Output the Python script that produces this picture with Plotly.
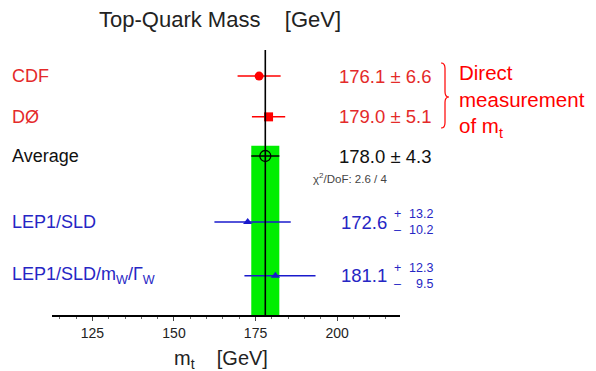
import plotly.graph_objects as go

# ---------------- data ----------------
labels = ["CDF", "DØ", "Average", "LEP1/SLD", "LEP1/SLD/m<sub>W</sub>/Γ<sub>W</sub>"]
values = [176.1, 179.0, 178.0, 172.6, 181.1]
err_plus = [6.6, 5.1, 4.3, 13.2, 12.3]
err_minus = [6.6, 5.1, 4.3, 10.2, 9.5]
row_y = [5.86, 4.86, 3.90, 2.28, 0.96]
chi2_text = "χ<sup>2</sup>/DoF: 2.6 / 4"
tick_vals = [125, 150, 175, 200]
x_range = [112.6, 219.3]
y_range = [0, 6.5]

RED = "#ff0000"
RED_TXT = "#e42a2a"
BLUE = "#1a1acc"
BLUE_TXT = "#2626c4"
GREEN = "#00ee00"
FONT = "Liberation Sans, Arial, sans-serif"

# page offset (default body margin) and geometry in window pixels
OX, OY = 8, 8
WIN_W, WIN_H = 596, 371
W, H = WIN_W - OX, WIN_H - OY
PLOT_L, PLOT_R, PLOT_T, PLOT_B = 52, 400, 50, 315
L, R, T, B = PLOT_L - OX, WIN_W - PLOT_R, PLOT_T - OY, WIN_H - PLOT_B
PW, PH = PLOT_R - PLOT_L, PLOT_B - PLOT_T


def px(xp):
    return (xp - PLOT_L) / PW


def py(yp):
    return (PLOT_B - yp) / PH


fig = go.Figure()

avg = values[2]
fig.add_shape(type="rect", xref="x", yref="y",
              x0=avg - err_minus[2], x1=avg + err_plus[2], y0=0, y1=4.15,
              fillcolor=GREEN, line=dict(width=0), layer="below")
fig.add_shape(type="line", xref="x", yref="y", x0=avg, x1=avg, y0=0, y1=y_range[1],
              line=dict(color="black", width=1.6))

styles = [
    dict(color=RED, symbol="circle", size=9, line=dict(width=0)),
    dict(color=RED, symbol="square", size=9, line=dict(width=0)),
    dict(symbol="circle-open", size=11, color="black", line=dict(color="black", width=1.3)),
    dict(color=BLUE, symbol="triangle-up", size=8, line=dict(width=0)),
    dict(color=BLUE, symbol="triangle-up", size=8, line=dict(width=0)),
]
bar_cols = [RED, RED, "black", BLUE, BLUE]
for i in range(len(labels)):
    fig.add_trace(go.Scatter(
        x=[values[i]], y=[row_y[i]], mode="markers", marker=styles[i],
        error_x=dict(type="data", symmetric=False, array=[err_plus[i]], arrayminus=[err_minus[i]],
                     color=bar_cols[i], thickness=1.5, width=0),
        showlegend=False, hoverinfo="skip"))

annotations = []
txt_cols = [RED_TXT, RED_TXT, "#111111", BLUE_TXT, BLUE_TXT]
for i, lab in enumerate(labels):
    annotations.append(dict(text=lab, x=px(10), y=row_y[i], xref="paper", yref="y",
                            xanchor="left", yanchor="middle", showarrow=False,
                            font=dict(size=18, color=txt_cols[i], family=FONT)))
    if err_plus[i] == err_minus[i]:
        annotations.append(dict(text=f"{values[i]:.1f} ± {err_plus[i]:.1f}", x=px(433), y=row_y[i],
                                xref="paper", yref="y", xanchor="right", yanchor="middle",
                                showarrow=False, font=dict(size=18.5, color=txt_cols[i], family=FONT)))
    else:
        annotations.append(dict(text=f"{values[i]:.1f}", x=px(389), y=row_y[i],
                                xref="paper", yref="y", xanchor="right", yanchor="middle",
                                showarrow=False, font=dict(size=18.5, color=txt_cols[i], family=FONT)))
        for sgn, e, dy in (("+", err_plus[i], 0.19), ("–", err_minus[i], -0.19)):
            annotations.append(dict(text=sgn, x=px(397), y=row_y[i] + dy, xref="paper", yref="y",
                                    xanchor="center", yanchor="middle", showarrow=False,
                                    font=dict(size=12.5, color=txt_cols[i], family=FONT)))
            annotations.append(dict(text=f"{e:.1f}", x=px(435), y=row_y[i] + dy, xref="paper", yref="y",
                                    xanchor="right", yanchor="middle", showarrow=False,
                                    font=dict(size=12.5, color=txt_cols[i], family=FONT)))

annotations.append(dict(text=chi2_text, x=px(311), y=py(178), xref="paper", yref="paper",
                        xanchor="left", yanchor="middle", showarrow=False,
                        font=dict(size=11.5, color="#444444", family=FONT)))
annotations.append(dict(text="Top-Quark Mass    [GeV]", x=px(220), y=py(19), xref="paper", yref="paper",
                        xanchor="center", yanchor="middle", showarrow=False,
                        font=dict(size=22, color="#222222", family=FONT)))
annotations.append(dict(text="m<sub>t</sub>    [GeV]", x=px(221), y=py(359), xref="paper", yref="paper",
                        xanchor="center", yanchor="middle", showarrow=False,
                        font=dict(size=20, color="#222222", family=FONT)))
annotations.append(dict(text="Direct<br>measurement<br>of m<sub>t</sub>", x=px(457), y=py(101),
                        xref="paper", yref="paper", xanchor="left", yanchor="middle", align="left",
                        showarrow=False, font=dict(size=20.5, color=RED, family=FONT)))

# curly brace
xb, xt = px(441), px(445)
yt, ym, ybm = py(63), py(97), py(128)
d = 0.02
brace = (f"M {xb},{yt} Q {xt},{yt} {xt},{yt - d} L {xt},{ym + d} Q {xt},{ym} {px(449)},{ym} "
         f"Q {xt},{ym} {xt},{ym - d} L {xt},{ybm + d} Q {xt},{ybm} {xb},{ybm}")
fig.add_shape(type="path", xref="paper", yref="paper", path=brace,
              line=dict(color=RED, width=1.2))

fig.update_layout(
    width=W, height=H, margin=dict(l=L, r=R, t=T, b=B),
    paper_bgcolor="white", plot_bgcolor="white",
    annotations=annotations,
    xaxis=dict(range=x_range, tickvals=tick_vals, ticks="outside", ticklen=4, tickwidth=1,
               tickcolor="#444444", showline=True, linecolor="black", linewidth=1.6,
               showgrid=False, zeroline=False, ticklabelstandoff=0,
               tickfont=dict(size=14, color="#222222", family=FONT),
               minor=dict(dtick=5, tick0=0, ticks="outside", ticklen=2, tickcolor="#666666")),
    yaxis=dict(range=y_range, visible=False, showgrid=False, zeroline=False),
)

fig.write_html("out.html")
